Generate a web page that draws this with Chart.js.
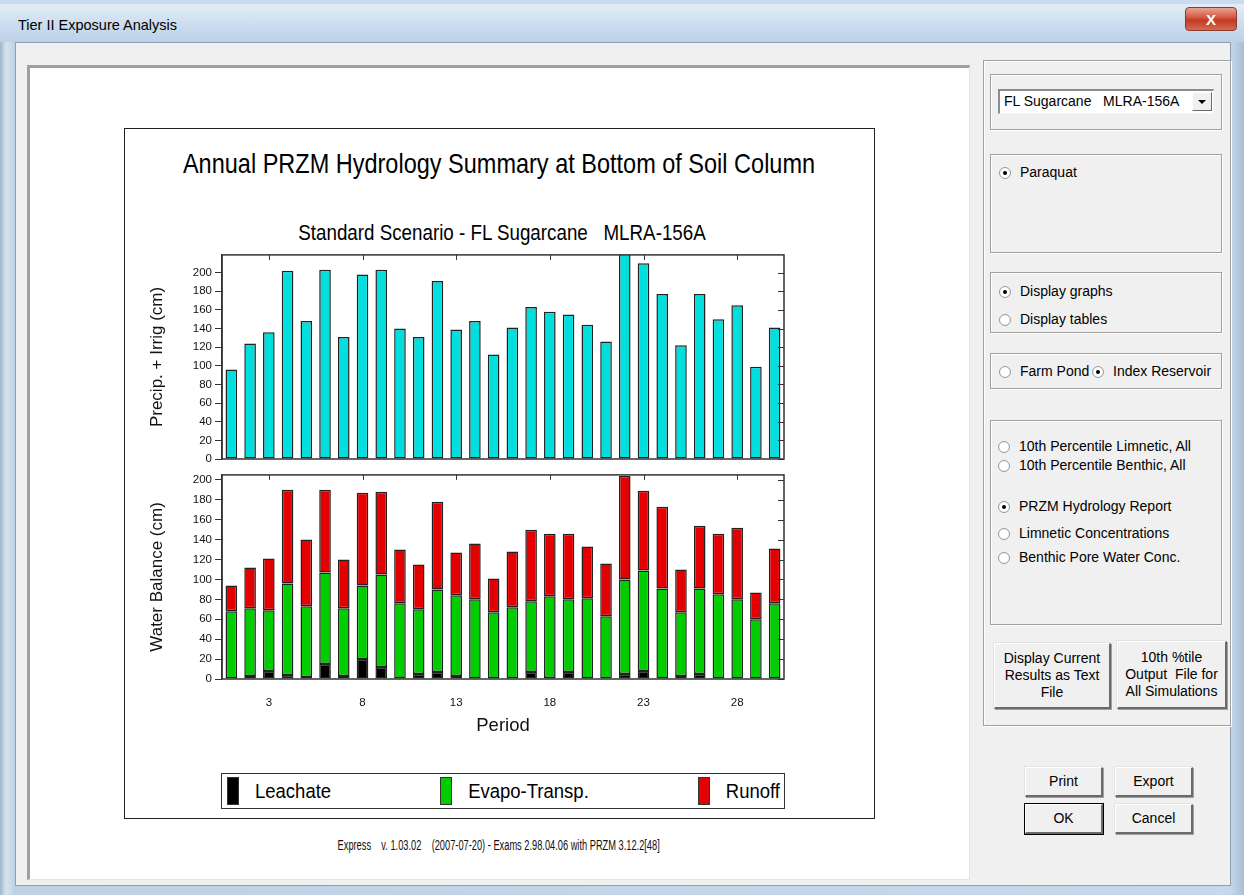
<!DOCTYPE html>
<html>
<head>
<meta charset="utf-8">
<script src="https://cdn.jsdelivr.net/npm/chart.js@4.4.0/dist/chart.umd.min.js"></script>
<style>
  body { margin: 0; width: 1244px; height: 895px; overflow: hidden; position: relative; background: #c9dcef; font-family: 'Liberation Sans', Arial, sans-serif; }
  .abs { position: absolute; }
  /* window chrome */
  #frame { left: 0; top: 4px; width: 1244px; height: 891px; background: linear-gradient(90deg, #9fb6c9 0, #d7e4ef 6px, #bfd2e4 14px, #c6d9ec 1230px, #a8bfd3 1244px); }
  #titlebar { left: 0; top: 4px; width: 1244px; height: 38px; background: linear-gradient(180deg, #e3edf7 0, #c9dbee 60%, #bcd1e8 100%); }
  #titletext { left: 18px; top: 17px; font-size: 14.5px; color: #000; }
  #closebtn { left: 1185px; top: 7px; width: 52px; height: 24px; border-radius: 4px; border: 1px solid #8a3a2e; background: linear-gradient(180deg, #e8a394 0, #d2553f 45%, #c23a22 55%, #d56a4e 100%); color: #fff; font: bold 15px 'Liberation Sans', Arial; text-align: center; line-height: 23px; box-sizing: border-box; }
  #content { left: 15px; top: 42px; width: 1216px; height: 844px; background: #f0f0f0; border: 1px solid #8d9fb1; box-sizing: border-box; }
  #leftpanel { left: 27px; top: 65px; width: 943px; height: 815px; background: #fff; border-top: 3px solid #a0a0a0; border-left: 3px solid #a0a0a0; border-right: 1px solid #e3e3e3; border-bottom: 1px solid #e3e3e3; box-sizing: border-box; }
  #chartbox { left: 124px; top: 128px; width: 751px; height: 691px; border: 1.5px solid #222; box-sizing: border-box; }
  .ttl { left: 124px; width: 750px; text-align: center; color: #000; white-space: pre; transform: scaleY(1.14); transform-origin: 50% 85%; }
  #legend { left: 221px; top: 773px; width: 564px; height: 36px; border: 1.5px solid #333; box-sizing: border-box; display: flex; justify-content: space-between; align-items: center; padding: 0 4px 0 5px; }
  #legend .item { display: flex; align-items: center; font-size: 18.5px; }
  #legend .sw { width: 12px; height: 28px; border: 1.5px solid #333; box-sizing: border-box; margin-right: 16px; }
  #legend .item span { display: inline-block; transform: scaleY(1.14); }
  #footer { left: 124px; width: 750px; top: 838px; text-align: center; font-size: 12px; white-space: pre; color: #111; }
  #footer span { display: inline-block; transform-origin: 50% 50%; }
  canvas { position: absolute; }
  /* right side controls */
  .grp { position: absolute; border: 1px solid #a0a0a0; box-shadow: inset 1px 1px 0 #fff, 1px 1px 0 #fff; box-sizing: border-box; }
  .opt { position: absolute; height: 18px; line-height: 18px; font-size: 14px; white-space: nowrap; }
  .opt i { display: inline-block; width: 12px; height: 12px; border-radius: 50%; box-sizing: border-box; border: 1px solid #9a9a9a; background: radial-gradient(circle, #fff 0, #fff 55%, #e4e4e4 100%); vertical-align: -2px; margin-right: 9px; position: relative; }
  .opt i.on::after { content: ''; position: absolute; left: 3px; top: 3px; width: 4px; height: 4px; border-radius: 50%; background: #000; }
  .btn { position: absolute; box-sizing: border-box; background: #f0f0f0; border-top: 1px solid #fff; border-left: 1px solid #fff; border-right: 2px solid #6b6b6b; border-bottom: 2px solid #6b6b6b; box-shadow: 1px 1px 0 #a0a0a0, -1px -1px 0 #e3e3e3; display: flex; align-items: center; justify-content: center; text-align: center; font-size: 14px; line-height: 17px; white-space: pre; }
  .btn.def { outline: 1px solid #000; }
  #combo { left: 998px; top: 89px; width: 216px; height: 25px; background: #fff; border-top: 2px solid #8c8c8c; border-left: 2px solid #8c8c8c; border-right: 1px solid #f4f4f4; border-bottom: 1px solid #f4f4f4; box-sizing: border-box; font-size: 14px; line-height: 21px; padding-left: 4px; white-space: pre; }
  #combo .arr { position: absolute; right: 1px; top: 1px; width: 20px; height: 19px; background: #f0f0f0; border-right: 1px solid #6b6b6b; border-bottom: 1px solid #6b6b6b; border-top: 1px solid #fff; border-left: 1px solid #fff; box-sizing: border-box; }
  #combo .arr::after { content: ''; position: absolute; left: 5px; top: 7px; border-left: 4px solid transparent; border-right: 4px solid transparent; border-top: 4px solid #000; }
</style>
</head>
<body>
<div id="frame" class="abs"></div>
<div id="titlebar" class="abs"></div>
<div id="titletext" class="abs">Tier II Exposure Analysis</div>
<div id="closebtn" class="abs">X</div>
<div id="content" class="abs"></div>
<div id="leftpanel" class="abs"></div>
<div id="chartbox" class="abs"></div>

<div class="abs ttl" style="top:152px;font-size:23.5px;">Annual PRZM Hydrology Summary at Bottom of Soil Column</div>
<div class="abs ttl" style="top:223px;font-size:18.8px;left:127px;">Standard Scenario - FL Sugarcane   MLRA-156A</div>

<canvas id="precipChart" width="750" height="225" style="left:124px;top:245px;"></canvas>
<canvas id="balanceChart" width="750" height="275" style="left:124px;top:465px;"></canvas>

<div id="legend" class="abs"></div>
<div id="footer" class="abs"><span id="footerText">Express    v. 1.03.02    (2007-07-20) - Exams 2.98.04.06 with PRZM 3.12.2[48]</span></div>

<!-- right side panel -->
<div class="grp" style="left:983px;top:60px;width:248px;height:666px;"></div>
<div class="grp" style="left:990px;top:74px;width:232px;height:56px;"></div>
<div id="combo" class="abs">FL Sugarcane   MLRA-156A<div class="arr"></div></div>

<div class="grp" style="left:990px;top:154px;width:232px;height:99px;"></div>
<div class="opt" style="left:999px;top:163px;"><i class="on"></i>Paraquat</div>

<div class="grp" style="left:990px;top:272px;width:232px;height:61px;"></div>
<div class="opt" style="left:999px;top:282px;"><i class="on"></i>Display graphs</div>
<div class="opt" style="left:999px;top:310px;"><i></i>Display tables</div>

<div class="grp" style="left:990px;top:353px;width:232px;height:36px;"></div>
<div class="opt" style="left:999px;top:362px;"><i></i>Farm Pond</div>
<div class="opt" style="left:1092px;top:362px;"><i class="on"></i>Index Reservoir</div>

<div class="grp" style="left:990px;top:420px;width:232px;height:205px;"></div>
<div class="opt" style="left:998px;top:437px;"><i></i>10th Percentile Limnetic, All</div>
<div class="opt" style="left:998px;top:456px;"><i></i>10th Percentile Benthic, All</div>
<div class="opt" style="left:998px;top:497px;"><i class="on"></i>PRZM Hydrology Report</div>
<div class="opt" style="left:998px;top:524px;"><i></i>Limnetic Concentrations</div>
<div class="opt" style="left:998px;top:548px;"><i></i>Benthic Pore Water Conc.</div>

<div class="btn" style="left:994px;top:643px;width:117px;height:66px;">Display Current
Results as Text
File</div>
<div class="btn" style="left:1117px;top:641px;width:110px;height:68px;">10th %tile
Output  File for
All Simulations</div>

<div class="btn" style="left:1025px;top:767px;width:78px;height:30px;">Print</div>
<div class="btn" style="left:1115px;top:767px;width:78px;height:30px;">Export</div>
<div class="btn def" style="left:1025px;top:804px;width:78px;height:30px;">OK</div>
<div class="btn" style="left:1115px;top:804px;width:78px;height:30px;">Cancel</div>

<script>
// periods 1..30
const periods = ['1','2','3','4','5','6','7','8','9','10','11','12','13','14','15',
                 '16','17','18','19','20','21','22','23','24','25','26','27','28','29','30'];
// labelled ticks on the period axis
const periodTicks = ['3','8','13','18','23','28'];

// precipitation + irrigation, cm
const precipIrrig = [96,124,136,202,148,203,131,198,203,140,131,191,139,148,112,
                     141,163,158,155,144,126,222,210,177,122,177,150,165,99,141];

// water balance, cm
const leachate = [0,3,8,4,2,15,3,20,12,0,5,7,3,0,0,0,7,1,7,0,0,5,8,0,3,5,0,0,0,0];
const evapoTransp = [68,68,61,92,71,92,68,74,93,76,65,83,81,80,67,72,71,82,73,81,63,95,101,91,64,86,85,80,60,76];
const runoff = [26,41,52,94,67,83,49,93,83,54,45,88,43,56,34,56,72,63,66,52,53,104,80,82,43,63,61,72,27,55];

const seriesNames = ['Leachate', 'Evapo-Transp.', 'Runoff'];
const seriesColors = ['#000000', '#00cc00', '#e40000'];

const tickFont = { family: "'Liberation Sans', Arial, sans-serif", size: 11.5 };
const titleFont = { family: "'Liberation Sans', Arial, sans-serif", size: 17 };

// box around the plot plus the inside tick marks on top and right
const frameBox = {
  id: 'frameBox',
  afterDraw(chart) {
    const ctx = chart.ctx, a = chart.chartArea;
    const x = chart.scales.x, y = chart.scales.y;
    ctx.save();
    ctx.strokeStyle = '#333';
    ctx.lineWidth = 1.5;
    ctx.strokeRect(a.left, a.top, a.right - a.left, a.bottom - a.top);
    ctx.lineWidth = 1;
    ctx.beginPath();
    periods.forEach((p, i) => {
      if (periodTicks.includes(p)) {
        const px = Math.round(x.getPixelForValue(i)) + 0.5;
        ctx.moveTo(px, a.top);
        ctx.lineTo(px, a.top + 5);
      }
    });
    y.ticks.forEach(t => {
      const py = Math.round(y.getPixelForValue(t.value)) + 0.5;
      ctx.moveTo(a.right, py);
      ctx.lineTo(a.right - 6, py);
    });
    ctx.stroke();
    ctx.restore();
  }
};

function yAxis(max, title) {
  return {
    min: 0, max: max,
    ticks: { stepSize: 20, includeBounds: false, color: '#111', font: tickFont, padding: 3 },
    grid: { drawOnChartArea: false, drawTicks: true, tickLength: 7, color: '#333' },
    border: { display: true, color: '#333', width: 1.5 },
    title: { display: true, text: title, color: '#111', font: titleFont, padding: { top: 23, bottom: 0 } },
    afterFit(scale) { scale.width = 98; }
  };
}

const common = {
  responsive: false,
  animation: false,
  devicePixelRatio: 1,
  events: [],
  plugins: { legend: { display: false }, tooltip: { enabled: false } }
};

new Chart(document.getElementById('precipChart'), {
  type: 'bar',
  data: {
    labels: periods,
    datasets: [{
      data: precipIrrig,
      backgroundColor: '#00dede',
      borderColor: '#222',
      borderWidth: 1.5,
      borderSkipped: false,
      barPercentage: 0.62,
      categoryPercentage: 1
    }]
  },
  options: Object.assign({}, common, {
    layout: { padding: { top: 8, right: 90, bottom: 11, left: 0 } },
    scales: {
      x: { display: false },
      y: yAxis(219, 'Precip. + Irrig (cm)')
    }
  }),
  plugins: [frameBox]
});

const balanceSeries = [leachate, evapoTransp, runoff];

new Chart(document.getElementById('balanceChart'), {
  type: 'bar',
  data: {
    labels: periods,
    datasets: balanceSeries.map((vals, i) => ({
      label: seriesNames[i],
      data: vals,
      backgroundColor: seriesColors[i],
      borderColor: '#222',
      borderWidth: 1.5,
      borderSkipped: false,
      barPercentage: 0.62,
      categoryPercentage: 1
    }))
  },
  options: Object.assign({}, common, {
    layout: { padding: { top: 8, right: 90, bottom: 0, left: 0 } },
    scales: {
      x: {
        stacked: true,
        grid: { display: false },
        border: { display: false },
        ticks: {
          autoSkip: false, maxRotation: 0, color: '#111', font: tickFont, padding: 9,
          callback: (v, i) => periodTicks.includes(periods[i]) ? periods[i] : ''
        },
        title: { display: true, text: 'Period', color: '#111', font: { family: "'Liberation Sans', Arial, sans-serif", size: 18.5 }, padding: { top: 0, bottom: 3 } },
        afterFit(scale) { scale.height = 61; }
      },
      y: Object.assign(yAxis(205, 'Water Balance (cm)'), { stacked: true })
    }
  }),
  plugins: [frameBox]
});

// legend box below the charts
const legend = document.getElementById('legend');
seriesNames.forEach((name, i) => {
  const item = document.createElement('div');
  item.className = 'item';
  item.innerHTML = '<div class="sw" style="background:' + seriesColors[i] + '"></div><span>' + name + '</span>';
  legend.appendChild(item);
});

// squeeze the version line to its narrow look
const ft = document.getElementById('footerText');
ft.style.transform = 'scaleX(' + (322 / ft.offsetWidth).toFixed(3) + ') scaleY(1.15)';
</script>
</body>
</html>
